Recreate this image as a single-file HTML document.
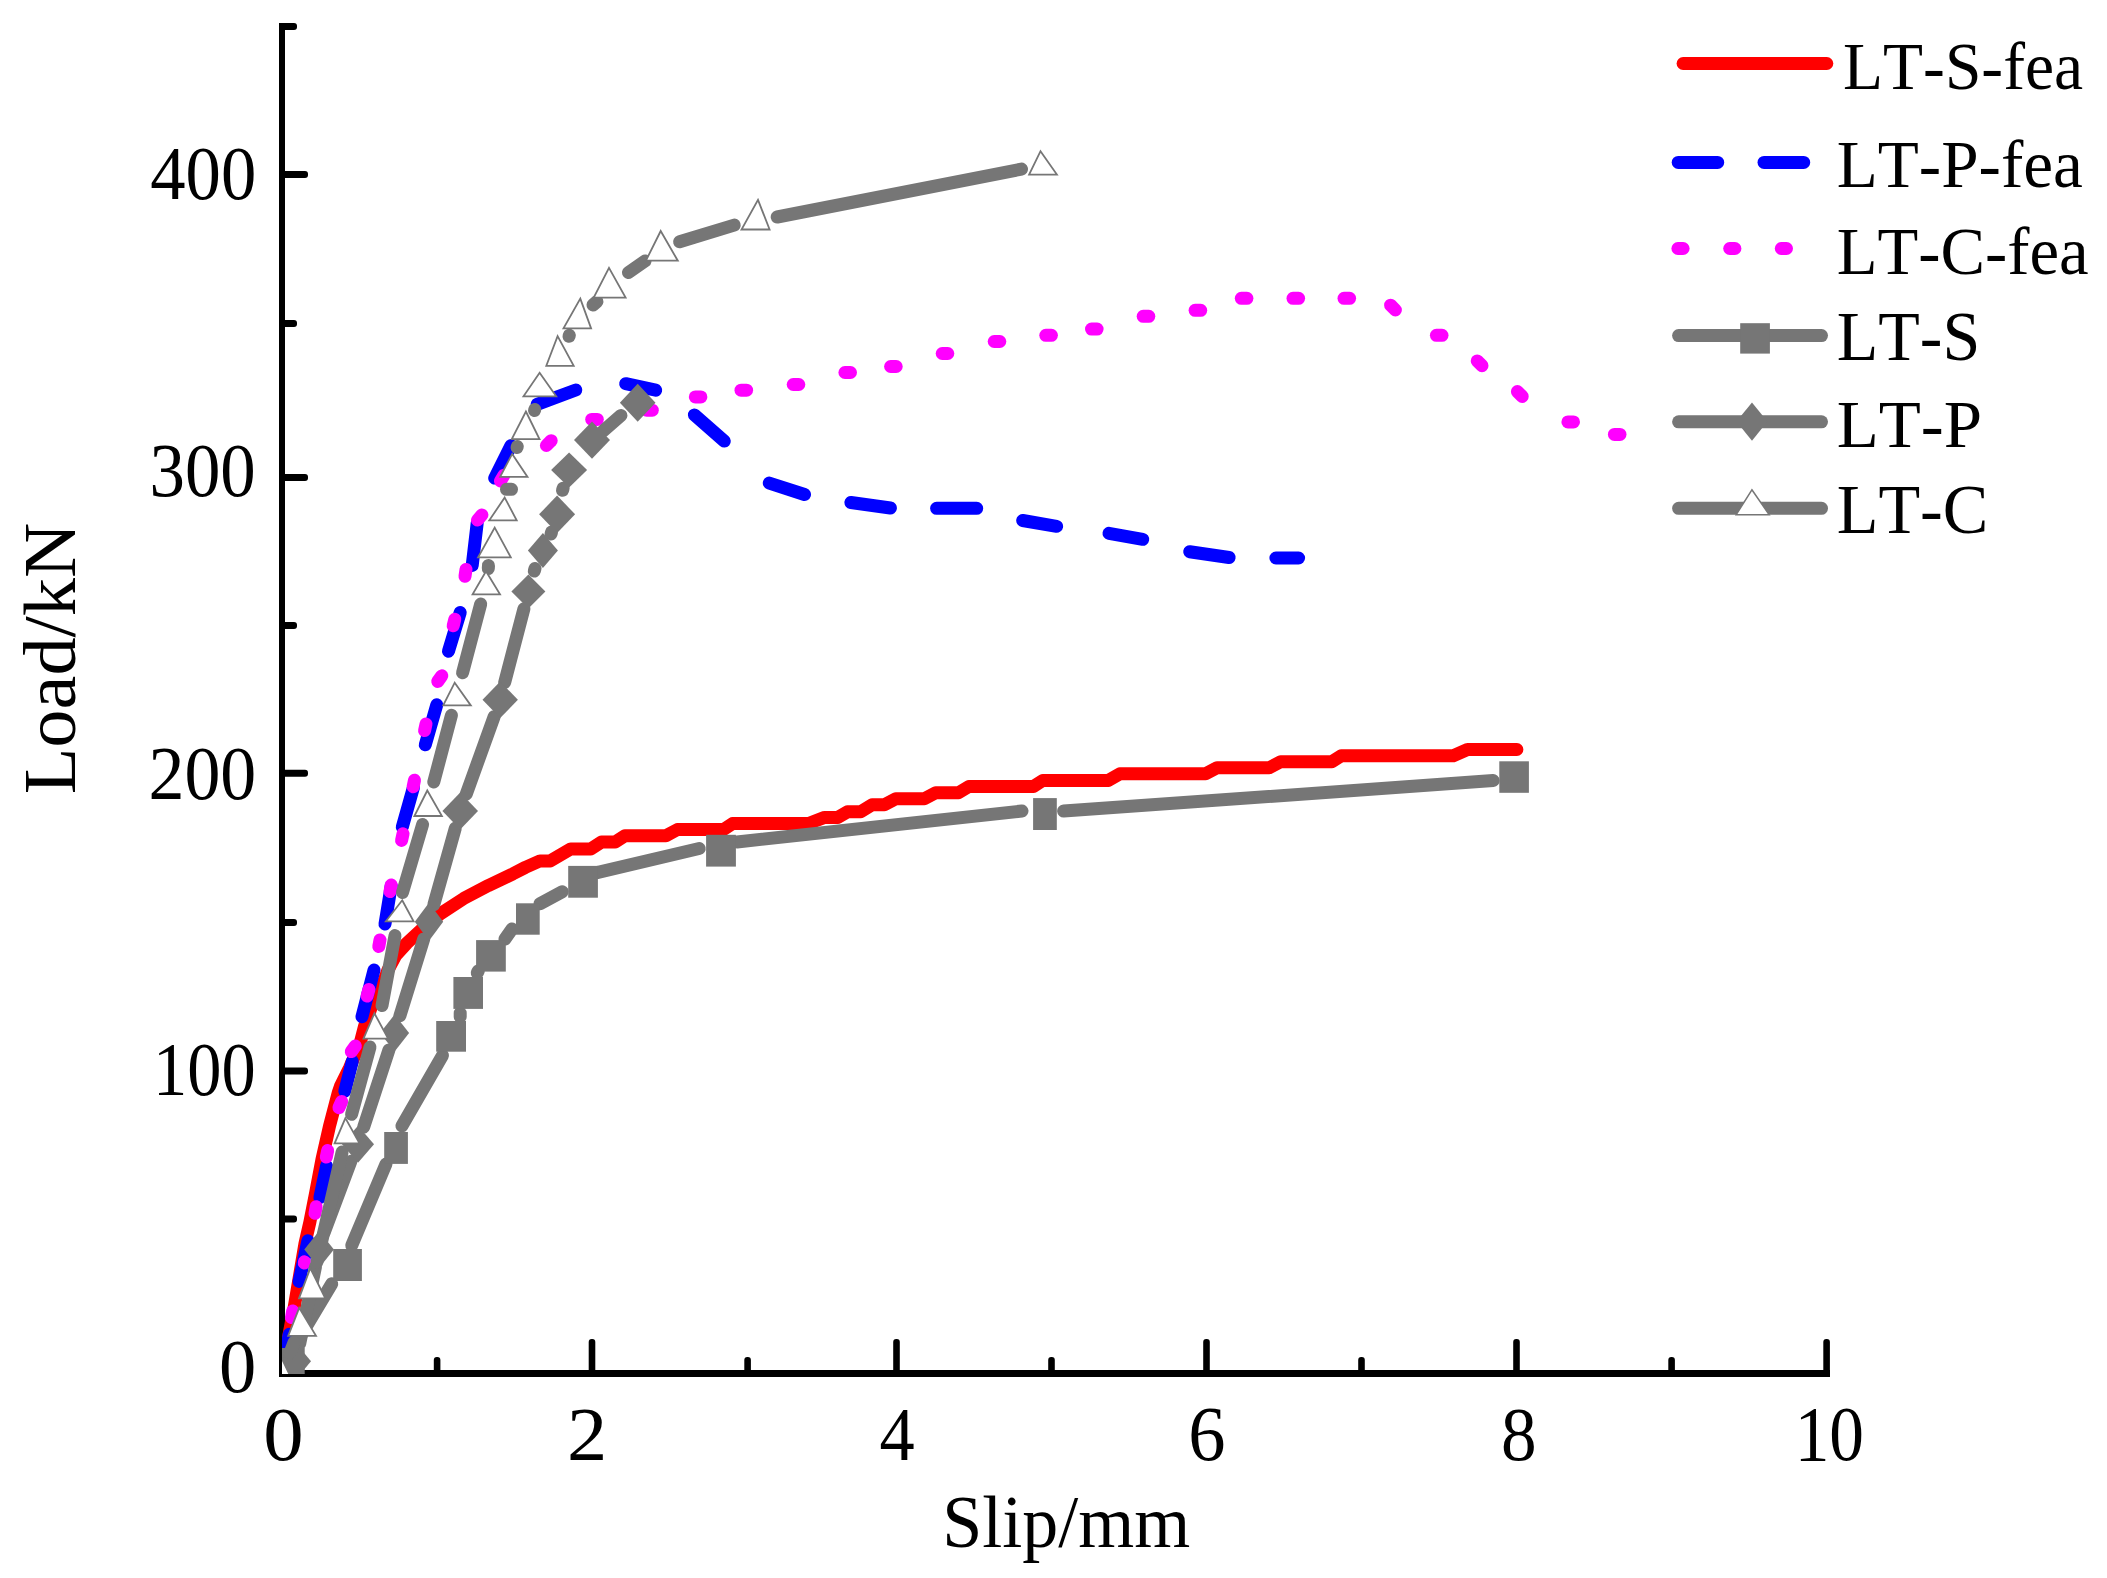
<!DOCTYPE html><html><head><meta charset="utf-8"><title>Load-slip curves</title>
<style>html,body{margin:0;padding:0;background:#fff}svg{display:block}text{font-family:"Liberation Serif","DejaVu Serif",serif;fill:#000;font-kerning:none;font-variant-ligatures:none}</style></head><body>
<svg width="2107" height="1578" viewBox="0 0 2107 1578">
<rect width="2107" height="1578" fill="#fff"/>
<g stroke="#000" fill="none" shape-rendering="crispEdges">
<rect x="279" y="23" width="6" height="1354" fill="#000" stroke="none"/>
<rect x="279" y="1370" width="1551" height="7" fill="#000" stroke="none"/>
</g>
<g fill="#000">
<rect x="282" y="23.0" width="15.0" height="7" rx="3" ry="3"/>
<rect x="282" y="171.0" width="26.0" height="7" rx="3" ry="3"/>
<rect x="282" y="320.0" width="15.0" height="7" rx="3" ry="3"/>
<rect x="282" y="474.0" width="26.0" height="7" rx="3" ry="3"/>
<rect x="282" y="622.0" width="15.0" height="7" rx="3" ry="3"/>
<rect x="282" y="769.8" width="26.0" height="7" rx="3" ry="3"/>
<rect x="282" y="919.0" width="15.0" height="7" rx="3" ry="3"/>
<rect x="282" y="1067.5" width="26.0" height="7" rx="3" ry="3"/>
<rect x="282" y="1215.5" width="15.0" height="7" rx="3" ry="3"/>
<rect x="433.8" y="1357.0" width="6.6" height="17.0" rx="3" ry="3"/>
<rect x="588.7" y="1339.0" width="6.6" height="35.0" rx="3" ry="3"/>
<rect x="744.3" y="1357.0" width="6.6" height="17.0" rx="3" ry="3"/>
<rect x="893.2" y="1339.0" width="6.6" height="35.0" rx="3" ry="3"/>
<rect x="1048.2" y="1357.0" width="6.6" height="17.0" rx="3" ry="3"/>
<rect x="1203.2" y="1339.0" width="6.6" height="35.0" rx="3" ry="3"/>
<rect x="1358.2" y="1357.0" width="6.6" height="17.0" rx="3" ry="3"/>
<rect x="1513.2" y="1339.0" width="6.6" height="35.0" rx="3" ry="3"/>
<rect x="1668.3" y="1357.0" width="6.6" height="17.0" rx="3" ry="3"/>
<rect x="1823.3" y="1339.0" width="6.6" height="35.0" rx="3" ry="3"/>
</g>
<defs><clipPath id="pc"><rect x="282" y="0" width="1825" height="1373.9"/></clipPath></defs>
<g clip-path="url(#pc)">
<polyline points="282.0,1373.5 289.5,1332.0 294.3,1306.7 305.0,1243.4 309.9,1222.0 315.7,1192.6 322.0,1159.3 329.5,1126.1 338.2,1092.9 340.5,1086.2 349.4,1068.0 360.2,1043.1 364.5,1026.4 372.0,1005.0 383.0,984.0 388.0,970.0 396.0,955.0 407.0,943.0 420.0,931.0 440.0,914.0 463.6,898.6 488.3,885.6 513.0,873.8 525.4,867.4 540.0,860.9 550.3,860.9 570.8,848.9 590.7,848.9 601.5,842.0 615.2,842.0 624.9,835.8 665.9,835.8 677.3,829.6 723.4,829.6 732.5,823.6 808.5,823.5 824.6,817.4 837.9,817.4 847.4,811.8 860.7,811.8 872.1,804.7 884.4,804.7 895.8,798.7 924.3,798.7 935.7,792.8 958.5,792.8 968.9,786.5 1033.4,786.5 1042.9,780.4 1108.4,780.4 1119.8,773.8 1205.6,773.8 1217.0,767.7 1269.2,767.7 1280.6,761.8 1331.8,761.8 1341.3,755.7 1453.3,755.7 1467.5,749.5 1516.9,749.5" fill="none" stroke="#ff0000" stroke-width="13" stroke-linecap="round" stroke-linejoin="round"/>
<line x1="282.0" y1="1373.5" x2="289.2" y2="1334.3" stroke="#0000ff" stroke-width="13" stroke-linecap="round"/>
<line x1="299.1" y1="1281.4" x2="307.9" y2="1240.8" stroke="#0000ff" stroke-width="13" stroke-linecap="round"/>
<line x1="319.9" y1="1197.5" x2="326.5" y2="1166.0" stroke="#0000ff" stroke-width="13" stroke-linecap="round"/>
<line x1="344.8" y1="1091.2" x2="352.3" y2="1061.3" stroke="#0000ff" stroke-width="13" stroke-linecap="round"/>
<line x1="362.0" y1="1016.7" x2="374.0" y2="970.0" stroke="#0000ff" stroke-width="13" stroke-linecap="round"/>
<line x1="385.0" y1="924.0" x2="391.2" y2="886.0" stroke="#0000ff" stroke-width="13" stroke-linecap="round"/>
<line x1="402.3" y1="827.1" x2="413.5" y2="787.2" stroke="#0000ff" stroke-width="13" stroke-linecap="round"/>
<line x1="425.3" y1="744.8" x2="436.8" y2="704.8" stroke="#0000ff" stroke-width="13" stroke-linecap="round"/>
<line x1="448.5" y1="651.2" x2="460.2" y2="612.5" stroke="#0000ff" stroke-width="13" stroke-linecap="round"/>
<line x1="472.2" y1="565.4" x2="477.2" y2="523.0" stroke="#0000ff" stroke-width="13" stroke-linecap="round"/>
<line x1="494.7" y1="478.1" x2="510.9" y2="445.6" stroke="#0000ff" stroke-width="13" stroke-linecap="round"/>
<line x1="537.1" y1="404.4" x2="575.8" y2="390.0" stroke="#0000ff" stroke-width="13" stroke-linecap="round"/>
<line x1="625.7" y1="383.7" x2="655.7" y2="390.2" stroke="#0000ff" stroke-width="13" stroke-linecap="round"/>
<line x1="694.4" y1="414.9" x2="724.3" y2="441.1" stroke="#0000ff" stroke-width="13" stroke-linecap="round"/>
<line x1="769.3" y1="483.1" x2="804.5" y2="494.5" stroke="#0000ff" stroke-width="13" stroke-linecap="round"/>
<line x1="850.9" y1="502.5" x2="890.4" y2="508.0" stroke="#0000ff" stroke-width="13" stroke-linecap="round"/>
<line x1="936.6" y1="508.3" x2="976.7" y2="508.3" stroke="#0000ff" stroke-width="13" stroke-linecap="round"/>
<line x1="1022.7" y1="520.5" x2="1056.6" y2="526.3" stroke="#0000ff" stroke-width="13" stroke-linecap="round"/>
<line x1="1109.0" y1="533.3" x2="1142.7" y2="539.3" stroke="#0000ff" stroke-width="13" stroke-linecap="round"/>
<line x1="1189.7" y1="551.7" x2="1229.1" y2="557.5" stroke="#0000ff" stroke-width="13" stroke-linecap="round"/>
<line x1="1275.9" y1="558.0" x2="1298.6" y2="558.0" stroke="#0000ff" stroke-width="13" stroke-linecap="round"/>
<line x1="291.5" y1="1317.6" x2="292.7" y2="1311.0" stroke="#ff00ff" stroke-width="13" stroke-linecap="round"/>
<line x1="304.3" y1="1263.0" x2="304.5" y2="1261.8" stroke="#ff00ff" stroke-width="13" stroke-linecap="round"/>
<line x1="315.0" y1="1213.3" x2="316.2" y2="1206.7" stroke="#ff00ff" stroke-width="13" stroke-linecap="round"/>
<line x1="326.3" y1="1157.1" x2="327.7" y2="1150.5" stroke="#ff00ff" stroke-width="13" stroke-linecap="round"/>
<line x1="338.9" y1="1107.7" x2="341.7" y2="1101.5" stroke="#ff00ff" stroke-width="13" stroke-linecap="round"/>
<line x1="351.3" y1="1051.6" x2="355.3" y2="1046.0" stroke="#ff00ff" stroke-width="13" stroke-linecap="round"/>
<line x1="367.1" y1="996.1" x2="368.9" y2="989.5" stroke="#ff00ff" stroke-width="13" stroke-linecap="round"/>
<line x1="378.8" y1="946.5" x2="380.0" y2="939.9" stroke="#ff00ff" stroke-width="13" stroke-linecap="round"/>
<line x1="390.0" y1="891.6" x2="391.2" y2="885.0" stroke="#ff00ff" stroke-width="13" stroke-linecap="round"/>
<line x1="401.6" y1="840.4" x2="403.0" y2="833.8" stroke="#ff00ff" stroke-width="13" stroke-linecap="round"/>
<line x1="413.1" y1="786.8" x2="414.5" y2="780.2" stroke="#ff00ff" stroke-width="13" stroke-linecap="round"/>
<line x1="424.6" y1="730.6" x2="426.0" y2="724.0" stroke="#ff00ff" stroke-width="13" stroke-linecap="round"/>
<line x1="437.8" y1="681.4" x2="441.8" y2="675.8" stroke="#ff00ff" stroke-width="13" stroke-linecap="round"/>
<line x1="453.2" y1="625.8" x2="454.8" y2="619.2" stroke="#ff00ff" stroke-width="13" stroke-linecap="round"/>
<line x1="465.0" y1="576.3" x2="466.0" y2="569.5" stroke="#ff00ff" stroke-width="13" stroke-linecap="round"/>
<line x1="477.5" y1="520.1" x2="481.9" y2="514.9" stroke="#ff00ff" stroke-width="13" stroke-linecap="round"/>
<line x1="500.5" y1="481.0" x2="503.9" y2="475.2" stroke="#ff00ff" stroke-width="13" stroke-linecap="round"/>
<line x1="546.4" y1="445.5" x2="551.2" y2="440.7" stroke="#ff00ff" stroke-width="13" stroke-linecap="round"/>
<line x1="591.7" y1="419.4" x2="597.3" y2="419.4" stroke="#ff00ff" stroke-width="13" stroke-linecap="round"/>
<line x1="646.7" y1="410.2" x2="652.3" y2="410.2" stroke="#ff00ff" stroke-width="13" stroke-linecap="round"/>
<line x1="695.3" y1="396.9" x2="700.9" y2="396.9" stroke="#ff00ff" stroke-width="13" stroke-linecap="round"/>
<line x1="741.0" y1="390.2" x2="746.6" y2="390.2" stroke="#ff00ff" stroke-width="13" stroke-linecap="round"/>
<line x1="793.2" y1="384.5" x2="798.8" y2="384.5" stroke="#ff00ff" stroke-width="13" stroke-linecap="round"/>
<line x1="844.9" y1="372.5" x2="850.5" y2="372.5" stroke="#ff00ff" stroke-width="13" stroke-linecap="round"/>
<line x1="890.6" y1="366.5" x2="896.2" y2="366.5" stroke="#ff00ff" stroke-width="13" stroke-linecap="round"/>
<line x1="942.2" y1="353.5" x2="947.8" y2="353.5" stroke="#ff00ff" stroke-width="13" stroke-linecap="round"/>
<line x1="994.2" y1="341.5" x2="999.8" y2="341.5" stroke="#ff00ff" stroke-width="13" stroke-linecap="round"/>
<line x1="1045.8" y1="335.3" x2="1051.4" y2="335.3" stroke="#ff00ff" stroke-width="13" stroke-linecap="round"/>
<line x1="1091.5" y1="329.1" x2="1097.1" y2="329.1" stroke="#ff00ff" stroke-width="13" stroke-linecap="round"/>
<line x1="1143.2" y1="316.3" x2="1148.8" y2="316.3" stroke="#ff00ff" stroke-width="13" stroke-linecap="round"/>
<line x1="1195.1" y1="310.3" x2="1200.7" y2="310.3" stroke="#ff00ff" stroke-width="13" stroke-linecap="round"/>
<line x1="1241.3" y1="298.3" x2="1246.9" y2="298.3" stroke="#ff00ff" stroke-width="13" stroke-linecap="round"/>
<line x1="1293.0" y1="298.3" x2="1298.6" y2="298.3" stroke="#ff00ff" stroke-width="13" stroke-linecap="round"/>
<line x1="1344.0" y1="298.3" x2="1349.6" y2="298.3" stroke="#ff00ff" stroke-width="13" stroke-linecap="round"/>
<line x1="1390.6" y1="305.2" x2="1395.4" y2="310.0" stroke="#ff00ff" stroke-width="13" stroke-linecap="round"/>
<line x1="1436.4" y1="335.3" x2="1442.0" y2="335.3" stroke="#ff00ff" stroke-width="13" stroke-linecap="round"/>
<line x1="1477.2" y1="360.9" x2="1482.0" y2="365.7" stroke="#ff00ff" stroke-width="13" stroke-linecap="round"/>
<line x1="1517.4" y1="391.6" x2="1522.2" y2="396.4" stroke="#ff00ff" stroke-width="13" stroke-linecap="round"/>
<line x1="1567.9" y1="421.9" x2="1573.5" y2="421.9" stroke="#ff00ff" stroke-width="13" stroke-linecap="round"/>
<line x1="1614.4" y1="434.4" x2="1620.0" y2="434.4" stroke="#ff00ff" stroke-width="13" stroke-linecap="round"/>
<line x1="297.5" y1="1341.2" x2="331.7" y2="1283.8" stroke="#767676" stroke-width="13" stroke-linecap="round"/>
<line x1="351.7" y1="1245.5" x2="386.0" y2="1164.0" stroke="#767676" stroke-width="13" stroke-linecap="round"/>
<line x1="401.9" y1="1125.9" x2="442.5" y2="1055.5" stroke="#767676" stroke-width="13" stroke-linecap="round"/>
<line x1="460.2" y1="1013.0" x2="460.2" y2="1017.0" stroke="#767676" stroke-width="13" stroke-linecap="round"/>
<line x1="477.2" y1="973.0" x2="478.2" y2="971.0" stroke="#767676" stroke-width="13" stroke-linecap="round"/>
<line x1="505.0" y1="939.0" x2="512.0" y2="929.0" stroke="#767676" stroke-width="13" stroke-linecap="round"/>
<line x1="540.0" y1="903.7" x2="562.2" y2="891.7" stroke="#767676" stroke-width="13" stroke-linecap="round"/>
<line x1="598.0" y1="872.4" x2="699.2" y2="848.5" stroke="#767676" stroke-width="13" stroke-linecap="round"/>
<line x1="737.0" y1="842.0" x2="1022.0" y2="811.0" stroke="#767676" stroke-width="13" stroke-linecap="round"/>
<line x1="1063.6" y1="811.0" x2="1493.2" y2="780.6" stroke="#767676" stroke-width="13" stroke-linecap="round"/>
<rect x="275.0" y="1348.0" width="29.7" height="27.0" fill="#767676"/>
<rect x="333.2" y="1249.0" width="28.7" height="32.0" fill="#767676"/>
<rect x="384.2" y="1132.0" width="23.7" height="31.9" fill="#767676"/>
<rect x="436.2" y="1021.0" width="29.8" height="30.7" fill="#767676"/>
<rect x="453.4" y="977.0" width="29.6" height="31.9" fill="#767676"/>
<rect x="476.1" y="940.1" width="29.7" height="31.5" fill="#767676"/>
<rect x="516.0" y="903.3" width="23.7" height="31.4" fill="#767676"/>
<rect x="568.2" y="865.9" width="29.7" height="31.8" fill="#767676"/>
<rect x="706.1" y="834.8" width="29.8" height="31.8" fill="#767676"/>
<rect x="1033.1" y="798.1" width="23.7" height="31.9" fill="#767676"/>
<rect x="1499.3" y="761.3" width="29.6" height="31.5" fill="#767676"/>
<line x1="299.7" y1="1343.7" x2="315.4" y2="1267.2" stroke="#767676" stroke-width="13" stroke-linecap="round"/>
<line x1="324.1" y1="1232.7" x2="350.9" y2="1161.3" stroke="#767676" stroke-width="13" stroke-linecap="round"/>
<line x1="363.7" y1="1127.1" x2="388.9" y2="1050.1" stroke="#767676" stroke-width="13" stroke-linecap="round"/>
<line x1="399.9" y1="1015.8" x2="423.7" y2="939.0" stroke="#767676" stroke-width="13" stroke-linecap="round"/>
<line x1="433.9" y1="904.5" x2="455.3" y2="828.2" stroke="#767676" stroke-width="13" stroke-linecap="round"/>
<line x1="466.3" y1="794.0" x2="494.1" y2="716.7" stroke="#767676" stroke-width="13" stroke-linecap="round"/>
<line x1="504.7" y1="682.4" x2="523.9" y2="608.8" stroke="#767676" stroke-width="13" stroke-linecap="round"/>
<line x1="534.3" y1="571.0" x2="535.0" y2="568.5" stroke="#767676" stroke-width="13" stroke-linecap="round"/>
<line x1="551.0" y1="534.0" x2="551.6" y2="532.0" stroke="#767676" stroke-width="13" stroke-linecap="round"/>
<line x1="562.5" y1="490.3" x2="563.1" y2="488.3" stroke="#767676" stroke-width="13" stroke-linecap="round"/>
<line x1="603.0" y1="431.1" x2="621.0" y2="415.4" stroke="#767676" stroke-width="13" stroke-linecap="round"/>
<polygon points="296.0,1343.3 311.0,1361.3 296.0,1379.3 281.0,1361.3" fill="#767676" stroke="none" stroke-width="0"/>
<polygon points="319.1,1231.1 333.9,1249.6 319.1,1268.1 304.3,1249.6" fill="#767676" stroke="none" stroke-width="0"/>
<polygon points="358.0,1125.7 374.0,1144.2 358.0,1162.7 342.0,1144.2" fill="#767676" stroke="none" stroke-width="0"/>
<polygon points="394.6,1014.5 409.1,1033.0 394.6,1051.5 380.1,1033.0" fill="#767676" stroke="none" stroke-width="0"/>
<polygon points="429.0,902.8 443.2,921.8 429.0,940.8 414.8,921.8" fill="#767676" stroke="none" stroke-width="0"/>
<polygon points="460.2,792.4 478.0,810.9 460.2,829.4 442.4,810.9" fill="#767676" stroke="none" stroke-width="0"/>
<polygon points="500.2,681.5 517.9,699.8 500.2,718.1 482.5,699.8" fill="#767676" stroke="none" stroke-width="0"/>
<polygon points="528.4,574.4 545.4,591.4 528.4,608.4 511.4,591.4" fill="#767676" stroke="none" stroke-width="0"/>
<polygon points="542.9,533.0 557.9,550.5 542.9,568.0 527.9,550.5" fill="#767676" stroke="none" stroke-width="0"/>
<polygon points="557.1,495.6 575.1,514.3 557.1,533.0 539.1,514.3" fill="#767676" stroke="none" stroke-width="0"/>
<polygon points="569.1,452.6 587.1,470.1 569.1,487.6 551.1,470.1" fill="#767676" stroke="none" stroke-width="0"/>
<polygon points="592.0,421.4 610.0,440.1 592.0,458.8 574.0,440.1" fill="#767676" stroke="none" stroke-width="0"/>
<polygon points="637.7,383.7 655.5,402.7 637.7,421.7 619.9,402.7" fill="#767676" stroke="none" stroke-width="0"/>
<line x1="290.0" y1="1353.0" x2="294.1" y2="1342.3" stroke="#767676" stroke-width="13" stroke-linecap="round"/>
<line x1="317.0" y1="1261.9" x2="342.1" y2="1152.1" stroke="#767676" stroke-width="13" stroke-linecap="round"/>
<line x1="351.6" y1="1114.3" x2="370.0" y2="1047.1" stroke="#767676" stroke-width="13" stroke-linecap="round"/>
<line x1="382.0" y1="1005.6" x2="395.0" y2="935.6" stroke="#767676" stroke-width="13" stroke-linecap="round"/>
<line x1="402.5" y1="892.5" x2="422.6" y2="824.5" stroke="#767676" stroke-width="13" stroke-linecap="round"/>
<line x1="433.8" y1="781.9" x2="451.4" y2="715.3" stroke="#767676" stroke-width="13" stroke-linecap="round"/>
<line x1="462.6" y1="672.7" x2="480.7" y2="604.0" stroke="#767676" stroke-width="13" stroke-linecap="round"/>
<line x1="488.3" y1="568.5" x2="488.5" y2="565.5" stroke="#767676" stroke-width="13" stroke-linecap="round"/>
<line x1="506.5" y1="489.3" x2="511.5" y2="489.3" stroke="#767676" stroke-width="13" stroke-linecap="round"/>
<line x1="517.0" y1="447.5" x2="517.3" y2="446.5" stroke="#767676" stroke-width="13" stroke-linecap="round"/>
<line x1="534.5" y1="410.5" x2="534.8" y2="409.5" stroke="#767676" stroke-width="13" stroke-linecap="round"/>
<line x1="569.0" y1="336.3" x2="569.3" y2="335.3" stroke="#767676" stroke-width="13" stroke-linecap="round"/>
<line x1="593.0" y1="305.0" x2="597.0" y2="301.5" stroke="#767676" stroke-width="13" stroke-linecap="round"/>
<line x1="628.5" y1="272.5" x2="645.0" y2="261.0" stroke="#767676" stroke-width="13" stroke-linecap="round"/>
<line x1="679.6" y1="241.8" x2="734.2" y2="225.1" stroke="#767676" stroke-width="13" stroke-linecap="round"/>
<line x1="777.2" y1="217.0" x2="1021.5" y2="169.1" stroke="#767676" stroke-width="13" stroke-linecap="round"/>
<polygon points="282.0,1358.8 296.1,1388.3 267.9,1388.3" fill="#fff" stroke="#767676" stroke-width="1.8"/>
<polygon points="299.2,1307.9 316.0,1335.8 288.2,1335.8" fill="#fff" stroke="#767676" stroke-width="1.8"/>
<polygon points="310.3,1268.2 325.3,1298.4 299.0,1298.4" fill="#fff" stroke="#767676" stroke-width="1.8"/>
<polygon points="345.4,1118.1 359.5,1143.3 334.6,1143.3" fill="#fff" stroke="#767676" stroke-width="1.8"/>
<polygon points="374.4,1013.3 388.1,1038.6 363.5,1038.6" fill="#fff" stroke="#767676" stroke-width="1.8"/>
<polygon points="402.2,900.3 413.6,921.3 385.9,921.3" fill="#fff" stroke="#767676" stroke-width="1.8"/>
<polygon points="427.3,790.5 441.9,816.0 414.4,816.0" fill="#fff" stroke="#767676" stroke-width="1.8"/>
<polygon points="454.7,682.7 470.8,705.4 443.2,705.4" fill="#fff" stroke="#767676" stroke-width="1.8"/>
<polygon points="486.0,571.2 500.0,594.3 472.6,594.3" fill="#fff" stroke="#767676" stroke-width="1.8"/>
<polygon points="494.7,527.6 510.8,557.3 478.1,557.3" fill="#fff" stroke="#767676" stroke-width="1.8"/>
<polygon points="504.7,497.6 516.7,520.3 489.3,520.3" fill="#fff" stroke="#767676" stroke-width="1.8"/>
<polygon points="512.2,453.9 527.5,476.9 500.1,476.9" fill="#fff" stroke="#767676" stroke-width="1.8"/>
<polygon points="525.9,411.5 539.5,439.2 511.8,439.2" fill="#fff" stroke="#767676" stroke-width="1.8"/>
<polygon points="539.6,372.8 556.2,396.3 523.5,396.3" fill="#fff" stroke="#767676" stroke-width="1.8"/>
<polygon points="557.6,336.1 573.7,365.8 546.3,365.8" fill="#fff" stroke="#767676" stroke-width="1.8"/>
<polygon points="580.3,298.6 591.1,328.4 563.5,328.4" fill="#fff" stroke="#767676" stroke-width="1.8"/>
<polygon points="609.0,267.9 625.6,297.6 593.7,297.6" fill="#fff" stroke="#767676" stroke-width="1.8"/>
<polygon points="660.7,231.0 677.8,260.7 645.9,260.7" fill="#fff" stroke="#767676" stroke-width="1.8"/>
<polygon points="758.0,199.8 769.6,229.5 741.5,229.5" fill="#fff" stroke="#767676" stroke-width="1.8"/>
<polygon points="1040.5,151.2 1056.9,174.6 1029.1,174.6" fill="#fff" stroke="#767676" stroke-width="1.8"/>
</g>
<text transform="matrix(0.35313,0,0,0.38444,150.29,199.03)" font-size="200" >400</text>
<text transform="matrix(0.35426,0,0,0.38444,149.46,495.83)" font-size="200" >300</text>
<text transform="matrix(0.35936,0,0,0.38444,148.47,799.03)" font-size="200" >200</text>
<text transform="matrix(0.34197,0,0,0.37852,153.04,1094.54)" font-size="200" >100</text>
<text transform="matrix(0.37262,0,0,0.38519,218.92,1392.23)" font-size="200" >0</text>
<text transform="matrix(0.40357,0,0,0.38370,263.37,1460.03)" font-size="200" >0</text>
<text transform="matrix(0.40250,0,0,0.38561,566.98,1459.90)" font-size="200" >2</text>
<text transform="matrix(0.35161,0,0,0.38561,879.39,1459.90)" font-size="200" >4</text>
<text transform="matrix(0.37294,0,0,0.38657,1188.24,1460.03)" font-size="200" >6</text>
<text transform="matrix(0.35595,0,0,0.38370,1501.05,1460.03)" font-size="200" >8</text>
<text transform="matrix(0.34713,0,0,0.38593,1794.65,1460.23)" font-size="200" >10</text>
<text transform="matrix(0.35979,0,0,0.37253,942.22,1546.78)" font-size="200" >Slip/mm</text>
<text transform="matrix(0.00000,-0.38188,0.36525,0.00000,75.07,794.29)" font-size="200">Load/kN</text>
<line x1="1683.1" y1="63.5" x2="1826.8" y2="63.5" stroke="#ff0000" stroke-width="13" stroke-linecap="round"/>
<line x1="1678.2" y1="162.4" x2="1717.7" y2="162.4" stroke="#0000ff" stroke-width="13" stroke-linecap="round"/>
<line x1="1764.0" y1="162.4" x2="1803.7" y2="162.4" stroke="#0000ff" stroke-width="13" stroke-linecap="round"/>
<line x1="1677.9" y1="248.5" x2="1683.1" y2="248.5" stroke="#ff00ff" stroke-width="13" stroke-linecap="round"/>
<line x1="1729.7" y1="248.5" x2="1734.9" y2="248.5" stroke="#ff00ff" stroke-width="13" stroke-linecap="round"/>
<line x1="1781.3" y1="248.5" x2="1786.5" y2="248.5" stroke="#ff00ff" stroke-width="13" stroke-linecap="round"/>
<line x1="1678.6" y1="335.6" x2="1821.5" y2="335.6" stroke="#767676" stroke-width="13" stroke-linecap="round"/>
<rect x="1740.2" y="323.2" width="29.7" height="30.4" fill="#767676"/>
<line x1="1678.6" y1="421.8" x2="1821.5" y2="421.8" stroke="#767676" stroke-width="13" stroke-linecap="round"/>
<polygon points="1752.0,402.6 1767.4,421.6 1752.0,440.7 1736.4,421.6" fill="#767676" stroke="none" stroke-width="0"/>
<line x1="1678.6" y1="508.3" x2="1821.5" y2="508.3" stroke="#767676" stroke-width="13" stroke-linecap="round"/>
<polygon points="1751.9,489.8 1769.2,514.7 1736.2,514.7" fill="#fff" stroke="#767676" stroke-width="1.5"/>
<text transform="matrix(0.32762,0,0,0.33706,1843.03,88.63)" font-size="200" >LT-S-fea</text>
<text transform="matrix(0.33591,0,0,0.33427,1836.78,187.23)" font-size="200" >LT-P-fea</text>
<text transform="matrix(0.33365,0,0,0.33497,1836.80,274.23)" font-size="200" >LT-C-fea</text>
<text transform="matrix(0.33995,0,0,0.34925,1836.76,360.10)" font-size="200" >LT-S</text>
<text transform="matrix(0.34447,0,0,0.34198,1836.73,446.70)" font-size="200" >LT-P</text>
<text transform="matrix(0.34131,0,0,0.34478,1836.75,532.91)" font-size="200" >LT-C</text>
</svg></body></html>
